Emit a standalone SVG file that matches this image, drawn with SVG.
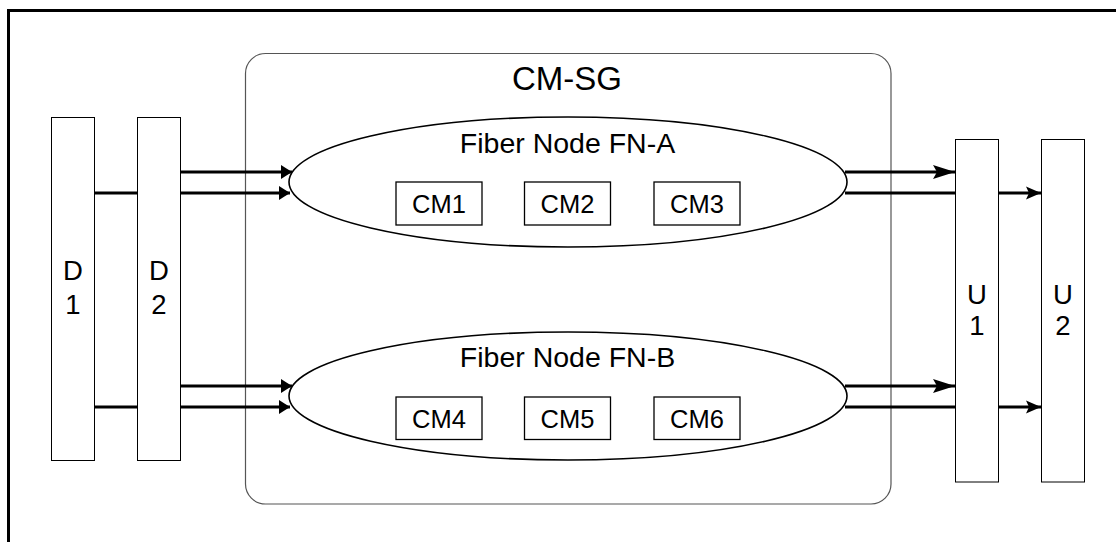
<svg xmlns="http://www.w3.org/2000/svg" width="1116" height="542" viewBox="0 0 1116 542">
<style>
text{font-family:"Liberation Sans",Arial,sans-serif;fill:#000;text-anchor:middle}
.bar{fill:#fff;stroke:#000;stroke-width:1}
.cm{fill:#fff;stroke:#000;stroke-width:1.3}
.fn{fill:#fff;stroke:#000;stroke-width:1.6}
.c{fill:none;stroke:#000;stroke-width:3}
</style>
<defs>
<marker id="aL" markerUnits="userSpaceOnUse" markerWidth="13" markerHeight="16" refX="11" refY="8" orient="auto"><path d="M0,1 L11,8 L0,15 z" fill="#000"/></marker>
<marker id="aM" markerUnits="userSpaceOnUse" markerWidth="24" markerHeight="16" refX="22" refY="8" orient="auto"><path d="M0,1 L22,8 L0,15 L4,8 z" fill="#000"/></marker>
<marker id="aS" markerUnits="userSpaceOnUse" markerWidth="17" markerHeight="16" refX="15" refY="8" orient="auto"><path d="M0,1.5 L15,8 L0,14.5 L3,8 z" fill="#000"/></marker>
</defs>
<rect width="1116" height="542" fill="#fff"/>
<rect x="8.5" y="10.5" width="1200" height="600" fill="none" stroke="#000" stroke-width="3"/>
<g id="cm-sg">
<rect x="245.5" y="53.5" width="645.5" height="450.5" rx="20" ry="20" fill="#fff" stroke="#555" stroke-width="1.2"/>
<text x="567" y="90" font-size="33">CM-SG</text>
</g>
<g id="connectors">
<line class="c" x1="95" y1="193" x2="138" y2="193"/>
<line class="c" x1="95" y1="407" x2="138" y2="407"/>
<line class="c" x1="181" y1="172" x2="292" y2="172" marker-end="url(#aL)"/>
<line class="c" x1="181" y1="193" x2="290" y2="193" marker-end="url(#aL)"/>
<line class="c" x1="181" y1="386" x2="292" y2="386" marker-end="url(#aL)"/>
<line class="c" x1="181" y1="407" x2="290" y2="407" marker-end="url(#aL)"/>
<line class="c" x1="845" y1="172" x2="955" y2="172" marker-end="url(#aM)"/>
<line class="c" x1="845" y1="193" x2="956" y2="193"/>
<line class="c" x1="998" y1="193" x2="1041" y2="193" marker-end="url(#aS)"/>
<line class="c" x1="845" y1="386" x2="955" y2="386" marker-end="url(#aM)"/>
<line class="c" x1="845" y1="407" x2="956" y2="407"/>
<line class="c" x1="998" y1="407" x2="1041" y2="407" marker-end="url(#aS)"/>
</g>
<g id="fn-a">
<ellipse class="fn" cx="568" cy="182" rx="279" ry="65"/>
<text x="567.5" y="153" font-size="28.5">Fiber Node FN-A</text>
</g>
<g id="cm1"><rect class="cm" x="396" y="182" width="86" height="43"/><text x="439" y="213" font-size="25.5">CM1</text></g>
<g id="cm2"><rect class="cm" x="524.5" y="182" width="86" height="43"/><text x="567.5" y="213" font-size="25.5">CM2</text></g>
<g id="cm3"><rect class="cm" x="654" y="182" width="86" height="43"/><text x="697" y="213" font-size="25.5">CM3</text></g>
<g id="fn-b">
<ellipse class="fn" cx="568" cy="396" rx="279" ry="64"/>
<text x="567.5" y="367" font-size="28.5">Fiber Node FN-B</text>
</g>
<g id="cm4"><rect class="cm" x="396" y="397" width="86" height="42.5"/><text x="439" y="428" font-size="25.5">CM4</text></g>
<g id="cm5"><rect class="cm" x="524.5" y="397" width="86" height="42.5"/><text x="567.5" y="428" font-size="25.5">CM5</text></g>
<g id="cm6"><rect class="cm" x="654" y="397" width="86" height="42.5"/><text x="697" y="428" font-size="25.5">CM6</text></g>
<g id="d1"><rect class="bar" x="51.5" y="117.5" width="43" height="343"/><text x="73" y="279.5" font-size="27.5">D</text><text x="73" y="314" font-size="27.5">1</text></g>
<g id="d2"><rect class="bar" x="137.5" y="117.5" width="43" height="343"/><text x="159" y="279.5" font-size="27.5">D</text><text x="159" y="314" font-size="27.5">2</text></g>
<g id="u1"><rect class="bar" x="955.5" y="139.5" width="43" height="342.5"/><text x="977" y="303.5" font-size="27.5">U</text><text x="977" y="335" font-size="27.5">1</text></g>
<g id="u2"><rect class="bar" x="1041.5" y="139.5" width="43" height="342.5"/><text x="1063" y="303.5" font-size="27.5">U</text><text x="1063" y="335" font-size="27.5">2</text></g>
</svg>
